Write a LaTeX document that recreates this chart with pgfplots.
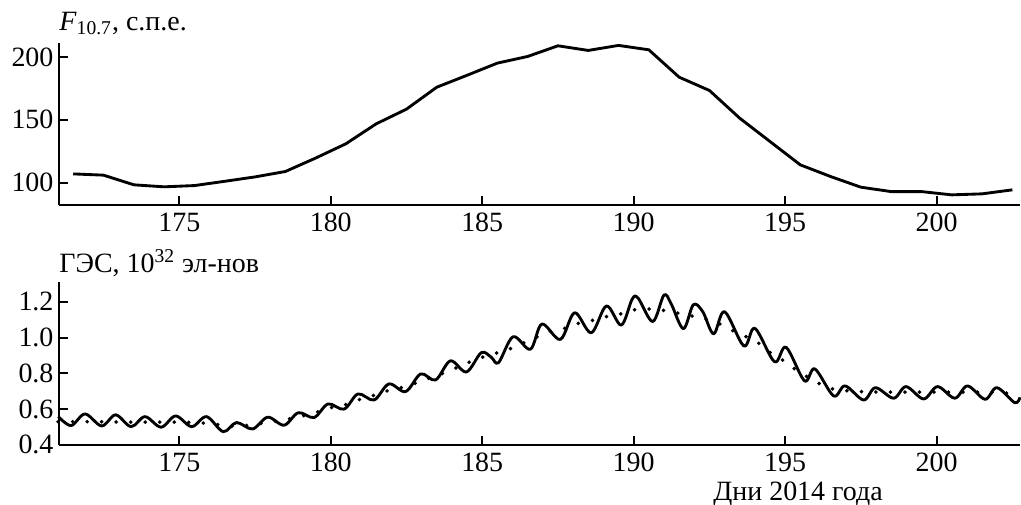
\documentclass[border=0pt]{standalone}
\usepackage{fontspec}
\setmainfont{Liberation Serif}
\usepackage{pgfplots}
\pgfplotsset{compat=1.18}

\newcommand\lblfont{\fontsize{12.7}{14}\selectfont}

\pgfplotsset{
  panel/.style={
    scale only axis,
    width=436.8pt,
    xmin=171.03, xmax=202.75,
    axis x line=bottom, axis y line=left,
    axis line style={-, line width=0.9pt},
    tick align=inside,
    major tick length=3.9pt,
    tick style={line width=0.9pt, black},
    xtick={175,180,...,200},
    minor tick num=0,
    tick label style={font=\lblfont},
    yticklabel style={xshift=1pt},
    /pgf/number format/assume math mode=true,
    clip=false,
  },
}

\begin{document}
\begin{tikzpicture}
\useasboundingbox (0,0) rectangle (464.1pt,229.5pt);

% F10.7
\begin{axis}[panel,
    at={(26.82pt,136.36pt)}, anchor=south west,
    height=73.8pt,
    ymin=82.2, ymax=211.6,
    ytick={100,150,200},
  ]
  \addplot[black, line width=1.3pt, line join=round] coordinates {
    (171.5,106.9) (172.5,105.9) (173.5,98.2) (174.5,96.6) (175.5,97.6)
    (176.5,101.0) (177.5,104.5) (178.5,108.8) (179.5,119.5) (180.5,130.9)
    (181.5,146.8) (182.5,158.5) (183.5,176.0) (184.5,185.5) (185.5,195.2)
    (186.5,200.5) (187.5,209.0) (188.5,205.3) (189.5,209.3) (190.5,205.8)
    (191.5,184.0) (192.5,173.4) (193.5,151.3) (194.5,132.7) (195.5,114.1)
    (196.5,104.8) (197.5,96.3) (198.5,92.8) (199.5,92.8) (200.5,90.2)
    (201.5,91.0) (202.5,94.2)
  };
  \node[anchor=base west, inner sep=0pt, font=\lblfont]
    at (rel axis cs:0,1) [yshift=5.4pt] {\textit{F}\textsubscript{10.7}, с.п.е.};
\end{axis}

% GES
\begin{axis}[panel,
    at={(26.82pt,27.27pt)}, anchor=south west,
    height=73.95pt,
    ymin=0.4, ymax=1.31,
    ytick={0.4,0.6,0.8,1.0,1.2},
    yticklabel style={/pgf/number format/.cd, fixed, fixed zerofill, precision=1},
  ]
  \addplot[black, line width=1.3pt, smooth, tension=0.55, line join=round] coordinates {
    (171.01,0.558) (171.43,0.508) (171.89,0.573) (172.44,0.506) (172.90,0.568)
    (173.41,0.502) (173.87,0.558) (174.40,0.499) (174.88,0.562) (175.41,0.502)
    (175.90,0.558) (176.45,0.474) (176.89,0.525) (177.42,0.489) (177.92,0.555)
    (178.46,0.510) (178.93,0.580) (179.45,0.553) (179.91,0.629) (180.44,0.600)
    (180.90,0.685) (181.43,0.651) (181.92,0.741) (182.47,0.698) (182.97,0.797)
    (183.46,0.763) (183.95,0.870) (184.48,0.808) (184.97,0.916) (185.30,0.890)
    (185.54,0.860) (186.02,1.005) (186.59,0.935) (186.97,1.076) (187.58,0.990)
    (188.05,1.139) (188.60,1.027) (189.10,1.177) (189.59,1.070) (189.95,1.215)
    (190.15,1.220) (190.63,1.090) (191.00,1.238) (191.24,1.188) (191.64,1.050)
    (191.97,1.184) (192.28,1.145) (192.64,1.021) (193.00,1.145) (193.64,0.953)
    (194.00,1.052) (194.65,0.865) (195.03,0.946) (195.64,0.758) (195.98,0.825)
    (196.60,0.674) (196.98,0.730) (197.59,0.651) (197.98,0.720) (198.58,0.661)
    (198.99,0.726) (199.57,0.657) (200.03,0.726) (200.60,0.661) (201.02,0.730)
    (201.60,0.655) (201.99,0.720) (202.58,0.636) (202.75,0.666)
  };
  \addplot[black, line width=1.8pt, line cap=round, dash pattern=on 0pt off 6.6pt, smooth] coordinates {
    (171.0,0.530) (172.0,0.530) (173.0,0.528) (174.0,0.527) (175.0,0.527)
    (176.0,0.520) (176.6,0.505) (177.3,0.510) (177.97,0.527) (178.47,0.540)
    (179.0,0.560) (179.43,0.576) (179.9,0.605) (180.4,0.620) (180.9,0.651)
    (181.4,0.676) (181.9,0.704) (182.56,0.730) (183.0,0.760) (183.5,0.787)
    (184.2,0.835) (184.74,0.875) (185.2,0.900) (185.7,0.925) (186.1,0.950)
    (186.76,1.000) (187.25,1.035) (187.8,1.055) (188.17,1.080) (188.73,1.100)
    (189.16,1.120) (189.77,1.140) (190.0,1.155) (190.53,1.160) (191.08,1.150)
    (191.52,1.135) (192.0,1.118) (192.44,1.100) (192.93,1.070) (193.37,1.030)
    (194.03,0.980) (194.47,0.920) (194.91,0.875) (195.35,0.820) (195.79,0.775)
    (196.4,0.720) (196.9,0.705) (197.5,0.698) (198.5,0.695) (199.5,0.695)
    (200.5,0.695) (201.5,0.695) (202.3,0.690) (202.75,0.680)
  };
  \node[anchor=base west, inner sep=0pt, font=\lblfont]
    at (rel axis cs:0,1) [yshift=4.4pt] {ГЭС, 10\textsuperscript{32} эл-нов};
  \node[anchor=base west, inner sep=0pt, font=\lblfont]
    at (rel axis cs:0.6805,0) [yshift=-25.5pt] {Дни 2014 года};
\end{axis}
\end{tikzpicture}
\end{document}
